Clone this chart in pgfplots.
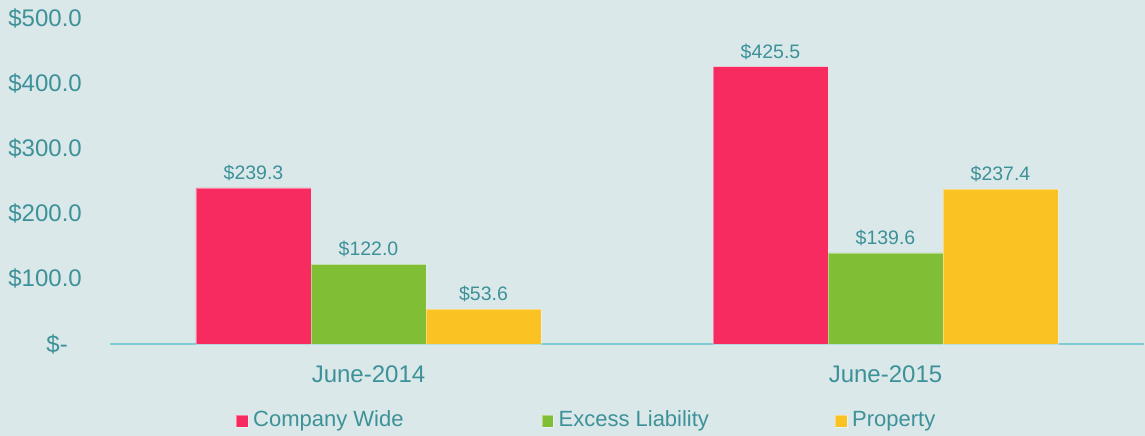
\documentclass[border=0pt]{standalone}
\usepackage{fontspec}
\setmainfont{Liberation Sans}
\usepackage{pgfplots}
\pgfplotsset{compat=1.18}
\definecolor{bgc}{HTML}{DBE8E9}
\definecolor{txt}{HTML}{3D9199}
\definecolor{axc}{HTML}{7FCCD4}
\definecolor{cpink}{HTML}{F72B5F}
\definecolor{cgreen}{HTML}{80BF35}
\definecolor{cyellow}{HTML}{FBC224}
\begin{document}
\begin{tikzpicture}
\fill[bgc] (-110pt,344pt) rectangle (1035pt,-92pt);
\begin{axis}[
  at={(0,0)}, anchor=south west,
  scale only axis,
  width=1034pt, height=326pt,
  xmin=-0.5, xmax=1.5,
  ymin=0, ymax=500,
  /pgf/number format/assume math mode=true,
  axis x line*=bottom,
  axis y line*=left,
  x axis line style={draw=axc, line width=1.2pt, -},
  y axis line style={draw=none},
  major tick length=0pt,
  xtick={0,1},
  xticklabels={June-2014,June-2015},
  ytick={0,100,200,300,400,500},
  yticklabels={\$-\rule{14pt}{0pt},\$100.0,\$200.0,\$300.0,\$400.0,\$500.0},
  ticklabel style={text=txt, font=\fontsize{24}{28}\selectfont, inner sep=0pt},
  yticklabel style={anchor=east, xshift=-28pt},
  xticklabel style={anchor=base, yshift=-38pt},
  ybar=0pt,
  bar width=115pt,
  nodes near coords={\$\pgfmathprintnumber[fixed,fixed zerofill,precision=1]{\pgfplotspointmeta}},
  every node near coord/.append style={anchor=base, inner sep=0pt, yshift=8.5pt, text=txt, font=\fontsize{19.5}{23}\selectfont},
  legend columns=3,
  legend image code/.code={\fill[#1] (0pt,-0.5pt) rectangle (11.5pt,11.5pt);},
  legend style={draw=none, fill=none, inner sep=0pt, outer sep=0pt,
    at={(axis description cs:0.1219,-0.2055)}, anchor=north west,
    font=\fontsize{22}{26}\selectfont, text=txt,
    nodes={inner sep=0pt, anchor=base west},
    /tikz/column 1/.style={column sep=5pt},
    /tikz/column 2/.style={column sep=138pt},
    /tikz/column 3/.style={column sep=5pt},
    /tikz/column 4/.style={column sep=126pt},
    /tikz/column 5/.style={column sep=5pt}},
]
\addplot[fill=cpink, draw=white, draw opacity=0.4, line width=0.6pt, bar shift=-115pt] coordinates {(0,239.3) (1,425.5)};
\addplot[fill=cgreen, draw=white, draw opacity=0.4, line width=0.6pt, bar shift=0pt] coordinates {(0,122.0) (1,139.6)};
\addplot[fill=cyellow, draw=white, draw opacity=0.4, line width=0.6pt, bar shift=115pt] coordinates {(0,53.6) (1,237.4)};
\legend{Company Wide,Excess Liability,Property}
\end{axis}
\pgfresetboundingbox
\path (-110pt,344pt) rectangle (1035pt,-92pt);
\end{tikzpicture}
\end{document}
